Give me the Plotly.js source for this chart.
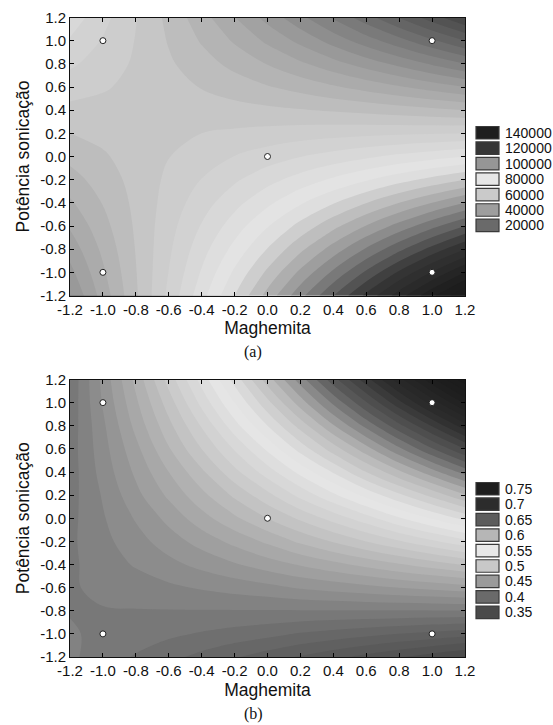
<!DOCTYPE html>
<html>
<head>
<meta charset="utf-8">
<script src="https://cdn.plot.ly/plotly-3.0.1.min.js"></script>
<style>
html,body{margin:0;padding:0;background:#fff;}
#chart{width:553px;height:725px;}
</style>
</head>
<body>
<div id="chart"></div>
<script>
// ---- data ----
const gridX = [-1.2,-1.0,-0.8,-0.6,-0.4,-0.2,0,0.2,0.4,0.6,0.8,1.0,1.2];
const gridY = [-1.2,-1.0,-0.8,-0.6,-0.4,-0.2,0,0.2,0.4,0.6,0.8,1.0,1.2];

// (a) surface, rows = gridY (bottom to top), columns = gridX
const surfaceA = [
  [35900,45700,55400,65000,74500,84000,93400,102700,111900,121000,130100,139100,148000],
  [38800,47300,55800,64100,72400,80700,88800,96900,104800,112700,120600,128300,136000],
  [41600,48900,56200,63300,70400,77300,84200,91100,97800,104500,111000,117500,124000],
  [44500,50600,56600,62500,68300,74000,79700,85300,90800,96200,101500,106800,112000],
  [47400,52200,57000,61600,66200,70700,75100,79500,83700,87900,92000,96000,100000],
  [50300,53900,57400,60800,64100,67400,70600,73700,76700,79600,82500,85300,88000],
  [53200,55500,57800,59900,62000,64100,66000,67900,69600,71300,73000,74500,76000],
  [56000,57100,58200,59100,60000,60700,61400,62100,62600,63100,63400,63700,64000],
  [58900,58800,58600,58300,57900,57400,56900,56300,55600,54800,53900,53000,52000],
  [61800,60400,59000,57400,55800,54100,52300,50500,48500,46500,44400,42200,40000],
  [64700,62100,59400,56600,53700,50800,47800,44700,41500,38200,34900,31500,28000],
  [67600,63700,59800,55700,51600,47500,43200,38900,34400,29900,25400,20700,16000],
  [70400,65300,60200,54900,49600,44100,38600,33100,27400,21700,15800,9900,4000]
];

// (b) surface
const surfaceB = [
  [0.422,0.415,0.409,0.403,0.397,0.391,0.385,0.379,0.373,0.367,0.361,0.355,0.349],
  [0.421,0.418,0.415,0.412,0.409,0.406,0.403,0.399,0.396,0.393,0.390,0.387,0.384],
  [0.4195,0.4195,0.4195,0.4195,0.4195,0.4195,0.4195,0.4195,0.4195,0.4195,0.4195,0.4195,0.4195],
  [0.419,0.422,0.425,0.428,0.431,0.434,0.437,0.441,0.444,0.447,0.450,0.453,0.456],
  [0.418,0.425,0.431,0.437,0.443,0.449,0.455,0.461,0.467,0.473,0.479,0.485,0.491],
  [0.418,0.427,0.436,0.445,0.454,0.463,0.472,0.482,0.491,0.500,0.509,0.518,0.527],
  [0.417,0.429,0.441,0.453,0.466,0.478,0.490,0.502,0.514,0.526,0.539,0.551,0.563],
  [0.416,0.431,0.447,0.462,0.477,0.492,0.507,0.523,0.538,0.553,0.568,0.583,0.599],
  [0.415,0.434,0.452,0.470,0.488,0.507,0.525,0.543,0.561,0.580,0.598,0.616,0.634],
  [0.415,0.436,0.457,0.479,0.500,0.521,0.542,0.564,0.585,0.606,0.628,0.649,0.670],
  [0.414,0.438,0.463,0.487,0.511,0.536,0.560,0.584,0.609,0.633,0.657,0.681,0.706],
  [0.413,0.441,0.468,0.495,0.523,0.550,0.577,0.605,0.632,0.659,0.687,0.714,0.742],
  [0.412,0.443,0.473,0.504,0.534,0.564,0.595,0.625,0.656,0.686,0.716,0.747,0.777]
];

// design points
const pointsX = [-1, -1, 0, 1, 1];
const pointsY = [-1, 1, 0, -1, 1];

// tick labels
const tickValues = [-1.2,-1.0,-0.8,-0.6,-0.4,-0.2,0,0.2,0.4,0.6,0.8,1.0,1.2];
const tickLabels = ['-1.2','-1.0','-0.8','-0.6','-0.4','-0.2','0.0','0.2','0.4','0.6','0.8','1.0','1.2'];

// legend levels
const legendLevelsA = [140000,120000,100000,80000,60000,40000,20000];
const legendLabelsA = ['140000','120000','100000','80000','60000','40000','20000'];
const legendLevelsB = [0.75,0.7,0.65,0.6,0.55,0.5,0.45,0.4,0.35];
const legendLabelsB = ['0.75','0.7','0.65','0.6','0.55','0.5','0.45','0.4','0.35'];

const axisTitleX = 'Maghemita';
const axisTitleY = 'Potência sonicação';
const captions = ['(a)', '(b)'];

// ---- styles ----
const shadesA = ['#1e1e1e','#363636','#969696','#e6e6e6','#cacaca','#9e9e9e','#6a6a6a'];
const shadesB = ['#1e1e1e','#2c2c2c','#5c5c5c','#b6b6b6','#e8e8e8','#c8c8c8','#9a9a9a','#6a6a6a','#4a4a4a'];
const rangeA = [0, 160000], endShadesA = ['#3c3c3c', '#181818'];
const rangeB = [0.3, 0.8], endShadesB = ['#383838', '#161616'];

function buildScale(levels, shades, range, ends) {
  const pairs = levels.map((l, i) => [l, shades[i]]).sort((a, b) => a[0] - b[0]);
  const span = range[1] - range[0];
  const out = [[0, ends[0]]];
  pairs.forEach(p => out.push([(p[0] - range[0]) / span, p[1]]));
  out.push([1, ends[1]]);
  return out;
}

const W = 553, H = 725;
const px = v => v / W;
const py = v => 1 - v / H;

const plotLeft = 70, plotRight = 465;
const panelA = {top: 17.5, bottom: 295.5, legendTop: 126.5, caption: 352};
const panelB = {top: 379.5, bottom: 657, legendTop: 482.5, caption: 714};

const fontSans = 'Liberation Sans, Arial, Helvetica, sans-serif';
const fontSerif = 'Liberation Serif, Times New Roman, serif';

function contourTrace(z, range, size, scale, xa, ya) {
  return {
    type: 'contour', x: gridX, y: gridY, z: z,
    xaxis: xa, yaxis: ya,
    zmin: range[0], zmax: range[1], zauto: false,
    colorscale: scale, showscale: false,
    autocontour: false,
    contours: {coloring: 'fill', start: range[0], end: range[1], size: size, showlines: false},
    line: {width: 0, smoothing: 1},
    hoverinfo: 'skip'
  };
}
function pointTrace(xa, ya) {
  return {
    type: 'scatter', mode: 'markers', x: pointsX, y: pointsY,
    xaxis: xa, yaxis: ya,
    marker: {size: 6, color: '#ffffff', line: {color: '#222222', width: 1}},
    hoverinfo: 'skip', showlegend: false
  };
}

const traces = [
  contourTrace(surfaceA, rangeA, 4000, buildScale(legendLevelsA, shadesA, rangeA, endShadesA), 'x', 'y'),
  pointTrace('x', 'y'),
  contourTrace(surfaceB, rangeB, 0.01, buildScale(legendLevelsB, shadesB, rangeB, endShadesB), 'x2', 'y2'),
  pointTrace('x2', 'y2')
];

const baseAxis = {
  range: [-1.2, 1.2], tickmode: 'array', tickvals: tickValues, ticktext: tickLabels,
  ticks: 'inside', ticklen: 4, tickwidth: 1, tickcolor: '#000',
  showline: true, linecolor: '#111', linewidth: 1, mirror: 'ticks',
  showgrid: false, zeroline: false, fixedrange: true,
  tickfont: {family: fontSans, size: 15, color: '#111'}
};
function xAxis(anchor) {
  return Object.assign({}, baseAxis, {
    anchor: anchor, domain: [px(plotLeft), px(plotRight)],
    title: {text: axisTitleX, font: {family: fontSans, size: 17.5, color: '#111'}, standoff: 5}
  });
}
function yAxis(anchor, panel) {
  return Object.assign({}, baseAxis, {
    anchor: anchor, domain: [py(panel.bottom), py(panel.top)],
    title: {text: axisTitleY, font: {family: fontSans, size: 17.5, color: '#111'}, standoff: 6}
  });
}

const shapes = [];
const annotations = [];
function addLegend(panel, labels, shades) {
  const pitch = 15.45, boxH = 12.5;
  labels.forEach((lab, i) => {
    const t = panel.legendTop + i * pitch;
    shapes.push({type: 'rect', xref: 'paper', yref: 'paper',
      x0: px(476), x1: px(499), y0: py(t + boxH), y1: py(t),
      fillcolor: shades[i], line: {color: '#3a3a3a', width: 1.2}});
    annotations.push({xref: 'paper', yref: 'paper', x: px(502.5), y: py(t + boxH / 2),
      xanchor: 'left', yanchor: 'middle', showarrow: false, text: lab,
      font: {family: fontSans, size: 14, color: '#111'}});
  });
}
addLegend(panelA, legendLabelsA, shadesA);
addLegend(panelB, legendLabelsB, shadesB);

[panelA, panelB].forEach((p, i) => {
  annotations.push({xref: 'paper', yref: 'paper', x: px(253), y: py(p.caption),
    xanchor: 'center', yanchor: 'middle', showarrow: false, text: captions[i],
    font: {family: fontSerif, size: 16, color: '#111'}});
});

const layout = {
  width: W, height: H,
  margin: {l: 0, r: 0, t: 0, b: 0},
  paper_bgcolor: '#ffffff', plot_bgcolor: '#ffffff',
  showlegend: false,
  xaxis: xAxis('y'), yaxis: yAxis('x', panelA),
  xaxis2: xAxis('y2'), yaxis2: yAxis('x2', panelB),
  shapes: shapes, annotations: annotations,
  font: {family: fontSans, color: '#111'}
};

Plotly.newPlot('chart', traces, layout, {staticPlot: true, displayModeBar: false});
</script>
</body>
</html>
